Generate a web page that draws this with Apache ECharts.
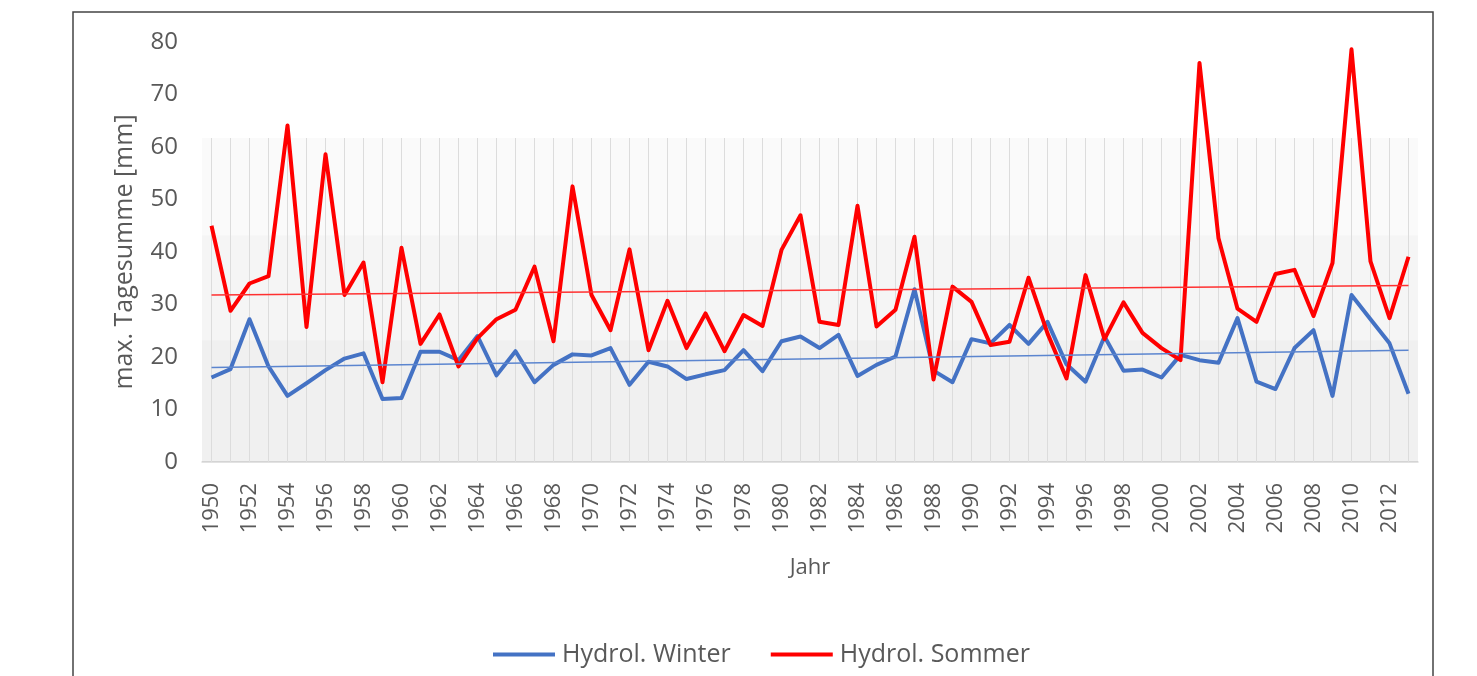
<!DOCTYPE html>
<html>
<head>
<meta charset="utf-8">
<title>max. Tagesumme</title>
<script src="https://cdn.jsdelivr.net/npm/echarts@6/dist/echarts.min.js"></script>
<style>
	html, body { margin: 0; padding: 0; background: #fff; }
	#main { width: 1477px; height: 676px; }
</style>
</head>
<body>
<div id="main"></div>
<script>
// Jahre 1950 - 2013
var years = [];
for (var y = 1950; y <= 2013; y++) {
	years.push(String(y));
}

// Hydrol. Winter
var winter = [16.1, 17.7, 27.2, 18.2, 12.6, 15.0, 17.5, 19.7, 20.7, 12.0, 12.2, 21.0, 21.0, 19.4, 24.0, 16.5,
	21.1, 15.2, 18.5, 20.5, 20.3, 21.7, 14.7, 19.1, 18.2, 15.8, 16.7, 17.5, 21.3, 17.3, 23.0, 23.9,
	21.7, 24.2, 16.4, 18.5, 20.1, 32.9, 17.4, 15.2, 23.4, 22.6, 26.1, 22.5, 26.7, 18.6, 15.3, 23.9,
	17.4, 17.6, 16.1, 20.4, 19.4, 18.9, 27.4, 15.3, 13.9, 21.7, 25.1, 12.6, 31.8, 27.2, 22.6, 13.0];

// Hydrol. Sommer
var sommer = [45.0, 28.8, 34.0, 35.4, 64.1, 25.7, 58.6, 31.8, 38.0, 15.2, 40.8, 22.5, 28.1, 18.2, 23.6, 27.2,
	29.0, 37.2, 23.0, 52.5, 31.8, 25.1, 40.5, 21.3, 30.7, 21.7, 28.3, 21.1, 28.0, 25.9, 40.4, 47.0,
	26.7, 26.1, 48.8, 25.8, 29.0, 42.9, 15.7, 33.4, 30.5, 22.3, 22.9, 35.1, 24.5, 15.9, 35.6, 23.4,
	30.4, 24.6, 21.7, 19.4, 76.0, 42.6, 29.2, 26.7, 35.8, 36.6, 27.8, 37.9, 78.6, 38.2, 27.4, 39.1];

// lineare Trends: Wert am Anfang (1950) und Ende (2013)
var trendWinter = [18.0, 21.3];
var trendSommer = [31.8, 33.6];

// y-Achse
var yTicks = [0, 10, 20, 30, 40, 50, 60, 70, 80];

var textColor = '#595959';
var fontName = 'Open Sans';

var myChart = echarts.init(document.getElementById('main'));

function trendLine(values, color) {
	return {
		silent: true,
		symbol: 'none',
		label: { show: false },
		lineStyle: { color: color, width: 1.5, type: 'solid' },
		data: [[
			{ coord: [years[0], values[0]] },
			{ coord: [years[years.length - 1], values[1]] }
		]]
	};
}

var option = {
	animation: false,
	backgroundColor: '#fff',
	textStyle: { fontFamily: fontName },
	graphic: [{
		// Rahmen
		type: 'rect',
		shape: { x: 73, y: 12, width: 1360, height: 700 },
		style: { fill: 'none', stroke: '#444', lineWidth: 1.5 },
		silent: true
	}],
	grid: {
		left: 202,
		right: 59,
		top: 42,
		bottom: 214,
		containLabel: false
	},
	legend: {
		left: 488,
		top: 637,
		itemWidth: 62,
		itemHeight: 4,
		itemGap: 40,
		icon: 'rect',
		textStyle: { color: textColor, fontSize: 25, fontFamily: fontName, padding: [0, 0, 0, 2] },
		data: ['Hydrol. Winter', 'Hydrol. Sommer']
	},
	xAxis: {
		type: 'category',
		data: years,
		boundaryGap: true,
		name: 'Jahr',
		nameLocation: 'middle',
		nameGap: 95,
		nameTextStyle: { color: textColor, fontSize: 22, fontFamily: fontName },
		axisLine: { lineStyle: { color: '#d9d9d9', width: 1.5 } },
		axisTick: { show: false },
		axisLabel: {
			interval: 1,
			rotate: 90,
			margin: 21,
			color: textColor,
			fontSize: 22,
			fontFamily: fontName
		},
		splitLine: { show: false }
	},
	yAxis: {
		type: 'value',
		min: yTicks[0],
		max: yTicks[yTicks.length - 1],
		interval: yTicks[1] - yTicks[0],
		name: 'max. Tagesumme [mm]',
		nameLocation: 'middle',
		nameGap: 65,
		nameTextStyle: { color: textColor, fontSize: 25, fontFamily: fontName },
		axisLine: { show: false },
		axisTick: { show: false },
		axisLabel: { margin: 24, color: textColor, fontSize: 24, fontFamily: fontName },
		splitLine: { show: false }
	},
	series: [{
		// senkrechte Hilfslinien + Hintergrundflächen
		name: 'grid',
		type: 'bar',
		silent: true,
		barWidth: 1,
		barGap: '-100%',
		itemStyle: { color: '#dcdcdc' },
		data: years.map(function () { return 61.7; }),
		z: 1,
		markArea: {
			silent: true,
			itemStyle: { borderWidth: 0 },
			data: [
				[{ yAxis: 0, itemStyle: { color: 'rgba(0,0,0,0.06)' } }, { yAxis: 23.2 }],
				[{ yAxis: 23.2, itemStyle: { color: 'rgba(0,0,0,0.04)' } }, { yAxis: 43.2 }],
				[{ yAxis: 43.2, itemStyle: { color: 'rgba(0,0,0,0.02)' } }, { yAxis: 61.7 }]
			]
		}
	}, {
		name: 'Hydrol. Winter',
		type: 'line',
		data: winter,
		symbol: 'none',
		z: 3,
		itemStyle: { color: '#4472C4' },
		lineStyle: { color: '#4472C4', width: 4, join: 'round' },
		markLine: trendLine(trendWinter, '#5b85cf')
	}, {
		name: 'Hydrol. Sommer',
		type: 'line',
		data: sommer,
		symbol: 'none',
		z: 4,
		itemStyle: { color: '#FF0000' },
		lineStyle: { color: '#FF0000', width: 4, join: 'round' },
		markLine: trendLine(trendSommer, '#ff3030')
	}]
};

myChart.setOption(option);
</script>
</body>
</html>
